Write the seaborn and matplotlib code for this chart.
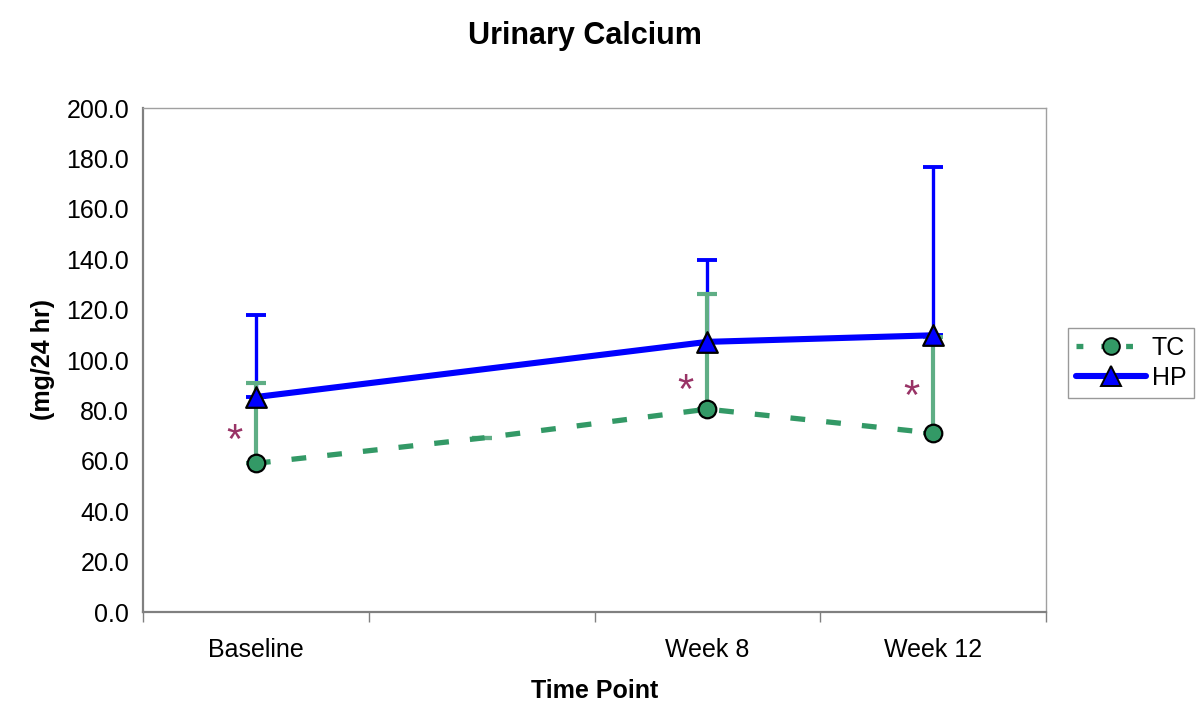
import numpy as np
import pandas as pd
import matplotlib
matplotlib.use("Agg")
import matplotlib.pyplot as plt
from matplotlib.lines import Line2D
import seaborn as sns

# ---- data ----
categories = ["Baseline", "", "Week 8", "Week 12"]
tc_mean = [59.0, 69.0, 80.5, 71.0]
tc_err_up = [32.0, 0.0, 45.5, 38.0]
hp_mean = [85.3, np.nan, 107.2, 109.8]
hp_err_up = [32.7, np.nan, 32.6, 66.8]
star_y = [70.6, np.nan, 90.5, 88.0]
yticks = [0, 20, 40, 60, 80, 100, 120, 140, 160, 180, 200]

sns.set_theme(style="white")
plt.rcParams['font.family'] = ['Liberation Sans', 'DejaVu Sans']
plt.rcParams['text.color'] = 'black'
plt.rcParams['axes.labelcolor'] = 'black'
plt.rcParams['xtick.color'] = 'black'
plt.rcParams['ytick.color'] = 'black'

TC_COLOR = "#339966"
HP_COLOR = "#0000FF"
STAR_COLOR = "#993366"

x = np.arange(len(categories))
df = pd.DataFrame({
    "x": np.concatenate([x, x]),
    "value": tc_mean + hp_mean,
    "group": ["TC"] * len(x) + ["HP"] * len(x),
})

fig = plt.figure(figsize=(12, 7.28), dpi=100)
ax = fig.add_axes([143 / 1200, 1 - 612 / 728, (1046 - 143) / 1200, (612 - 108) / 728])

# error bars (upper only)
hp_m = np.array(hp_mean); hp_e = np.array(hp_err_up)
ok = ~np.isnan(hp_m)
ax.errorbar(x[ok], hp_m[ok], yerr=[np.zeros(ok.sum()), hp_e[ok]], fmt="none",
            ecolor=HP_COLOR, elinewidth=2.4, capsize=7.5, capthick=2.8, zorder=2)
tc_m = np.array(tc_mean); tc_e = np.array(tc_err_up)
ax.errorbar(x, tc_m, yerr=[np.zeros(len(x)), tc_e], fmt="none",
            ecolor="#5fae85", elinewidth=3.0, capsize=7.5, capthick=3.0, zorder=3)

# lines
tc_df = df[df.group == "TC"]
hp_df = df[df.group == "HP"].dropna()
sns.lineplot(data=tc_df, x="x", y="value", ax=ax, color=TC_COLOR, lw=3.8,
             dashes=False, linestyle=(0, (2.8, 4.0)), zorder=4, legend=False,
             estimator=None, sort=False)
sns.lineplot(data=hp_df, x="x", y="value", ax=ax, color=HP_COLOR, lw=4.4,
             zorder=5, legend=False, estimator=None, sort=False)

# markers
mk = [0, 2, 3]
ax.scatter(x[mk], tc_m[mk], s=160, marker="o", color=TC_COLOR, edgecolor="black",
           linewidth=1.6, zorder=6)
ax.scatter(x[ok], hp_m[ok], s=220, marker="^", color=HP_COLOR, edgecolor="black",
           linewidth=1.6, zorder=7)

# significance asterisks
for xi, sy in zip(x, star_y):
    if not np.isnan(sy):
        ax.text(xi - 0.097, sy - 3.0, "*", color=STAR_COLOR, fontsize=30,
                ha="center", va="center", zorder=8)

ax.set_xlim(-0.5, len(categories) - 0.5)
ax.set_ylim(0, 200)
ax.set_yticks(yticks)
ax.set_yticklabels([f"{v:.1f}" for v in yticks], fontsize=18)
ax.set_xticks(x)
ax.set_xticklabels(categories, fontsize=18)
ax.set_xticks(np.arange(-0.5, len(categories), 1.0), minor=True)
ax.tick_params(axis="x", which="major", length=0, pad=19)
ax.tick_params(axis="x", which="minor", length=7, width=1, color="#808080",
               direction="out", bottom=True)
ax.tick_params(axis="y", length=5, width=1, color="#808080", direction="out", pad=5)

for side in ["left", "bottom"]:
    ax.spines[side].set_color("#808080")
    ax.spines[side].set_linewidth(1.6)
for side in ["top", "right"]:
    ax.spines[side].set_color("#a0a0a0")
    ax.spines[side].set_linewidth(1.0)

ax.set_xlabel("Time Point", fontsize=18, fontweight="bold", labelpad=12)
ax.set_ylabel("(mg/24 hr)", fontsize=18, fontweight="bold", labelpad=8)

fig.text(585 / 1200, 1 - 36 / 728, "Urinary Calcium", fontsize=22,
         fontweight="bold", ha="center", va="center")

handles = [
    Line2D([], [], color=TC_COLOR, lw=3.8, linestyle=(0, (1.3, 3.4)), marker="o",
           markersize=12, markerfacecolor=TC_COLOR, markeredgecolor="black", markeredgewidth=1.4),
    Line2D([], [], color=HP_COLOR, lw=4.4, marker="^", markersize=14,
           markerfacecolor=HP_COLOR, markeredgecolor="black", markeredgewidth=1.4),
]
leg = fig.legend(handles, ["TC", "HP"], loc="center left",
                 bbox_to_anchor=(1068 / 1200, 1 - 363 / 728), fontsize=18,
                 frameon=True, fancybox=False, edgecolor="#808080",
                 handlelength=2.8, handletextpad=0.25, borderpad=0.3,
                 labelspacing=0.25, borderaxespad=0)
leg.get_frame().set_linewidth(1.0)

fig.savefig("out.png", dpi=100)
